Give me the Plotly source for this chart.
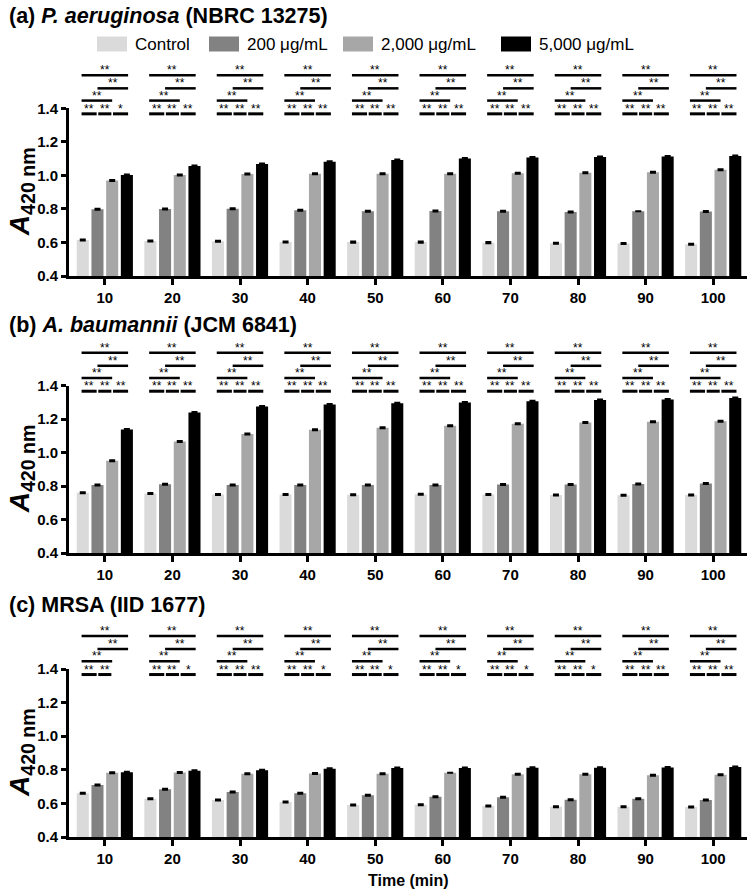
import plotly.graph_objects as go

# ---------------- data ----------------
times = ["10", "20", "30", "40", "50", "60", "70", "80", "90", "100"]
groups = ["Control", "200 μg/mL", "2,000 μg/mL", "5,000 μg/mL"]
colors = ["#dadada", "#828282", "#a7a7a7", "#000000"]

# (a) P. aeruginosa
a_control = [0.614, 0.608, 0.607, 0.603, 0.602, 0.602, 0.599, 0.595, 0.594, 0.590]
a_200 = [0.798, 0.800, 0.801, 0.792, 0.786, 0.788, 0.786, 0.781, 0.786, 0.785]
a_2000 = [0.970, 1.002, 1.008, 1.010, 1.010, 1.010, 1.012, 1.016, 1.018, 1.034]
a_5000 = [1.002, 1.056, 1.068, 1.082, 1.092, 1.100, 1.106, 1.110, 1.112, 1.116]
# (b) A. baumannii
b_control = [0.760, 0.755, 0.750, 0.750, 0.748, 0.751, 0.749, 0.746, 0.745, 0.747]
b_200 = [0.807, 0.811, 0.806, 0.807, 0.807, 0.807, 0.809, 0.809, 0.812, 0.816]
b_2000 = [0.952, 1.067, 1.112, 1.137, 1.148, 1.160, 1.172, 1.180, 1.184, 1.188]
b_5000 = [1.138, 1.240, 1.275, 1.287, 1.295, 1.300, 1.307, 1.314, 1.318, 1.326]
# (c) MRSA
c_control = [0.660, 0.627, 0.620, 0.608, 0.590, 0.592, 0.585, 0.580, 0.580, 0.578]
c_200 = [0.710, 0.684, 0.668, 0.660, 0.648, 0.640, 0.637, 0.622, 0.627, 0.620]
c_2000 = [0.782, 0.784, 0.776, 0.778, 0.776, 0.782, 0.774, 0.774, 0.768, 0.770]
c_5000 = [0.786, 0.794, 0.798, 0.806, 0.810, 0.810, 0.812, 0.812, 0.814, 0.816]

# standard errors (tiny)
a_err = [[0.003] * 10, [0.003] * 8 + [0.0, 0.003], [0.003] * 10, [0.003] * 10]
b_err = [[0.003] * 10, [0.003] * 10, [0.003] * 10, [0.003] * 10]
c_err = [[0.003] * 10, [0.003] * 10, [0.003] * 5 + [0.0] + [0.003] * 4, [0.003] * 10]

# significance: comparisons (bar i vs bar j)
comp_upper = [(0, 3), (1, 3), (0, 2)]  # top, second, third rows -> all "**"
comp_lower = [(0, 1), (1, 2), (2, 3)]
a_lower = [["**", "**", "*"]] + [["**", "**", "**"]] * 9
b_lower = [["**", "**", "**"]] * 10
c_lower = [["**", "**", ""], ["**", "**", "*"], ["**", "**", "**"], ["**", "**", "*"],
           ["**", "**", "*"], ["**", "**", "*"], ["**", "**", "*"], ["**", "**", "*"],
           ["**", "**", "**"], ["**", "**", "**"]]
upper_rows_y = [1.597, 1.519, 1.446]
lower_row_y = 1.367

titles = ["(a) <i>P. aeruginosa</i> (NBRC 13275)",
          "(b) <i>A. baumannii</i> (JCM 6841)",
          "(c) MRSA (IID 1677)"]
yticks = [0.4, 0.6, 0.8, 1.0, 1.2, 1.4]

panels = [
    dict(vals=[a_control, a_200, a_2000, a_5000], err=a_err, lower=a_lower, title=titles[0]),
    dict(vals=[b_control, b_200, b_2000, b_5000], err=b_err, lower=b_lower, title=titles[1]),
    dict(vals=[c_control, c_200, c_2000, c_5000], err=c_err, lower=c_lower, title=titles[2]),
]

# ---------------- layout geometry (pixels) ----------------
W, H = 750, 893
FONT = "Liberation Sans, Arial, Helvetica, sans-serif"
x_left, x_right = 69, 747
ypix = [(276, 108.3), (553, 385.7), (837, 669)]  # (y of 0.4, y of 1.4)
title_y = [16, 325, 605]
BARGAP = 0.13
BARGROUPGAP = 0.18
YMIN, YMAX = 0.4, 1.4

def py(p):
    return 1 - p / H

fig = go.Figure()
shapes = []
annotations = []

slot = (1 - BARGAP) / 4
def off(i):
    return (i - 1.5) * slot

for k, pan in enumerate(panels):
    sfx = "" if k == 0 else str(k + 1)
    xa, ya = "x" + sfx, "y" + sfx
    for g in range(4):
        fig.add_trace(go.Bar(
            x=times, y=pan["vals"][g], name=groups[g],
            marker=dict(color=colors[g], line=dict(width=0)),
            error_y=dict(type="data", array=pan["err"][g], color="black",
                         thickness=2, width=3),
            xaxis=xa, yaxis=ya, showlegend=False,
        ))
    b0, b1 = ypix[k]
    fig.update_layout(**{
        "xaxis" + sfx: dict(
            domain=[x_left / W, x_right / W], type="category", range=[-0.53, 9.5],
            showline=True, linewidth=3, linecolor="black", ticks="outside",
            ticklen=6, tickwidth=3, tickcolor="black", showgrid=False, automargin=False,
            tickfont=dict(family=FONT, size=15, color="black", weight="bold"),
            anchor=ya, fixedrange=True),
        "yaxis" + sfx: dict(
            domain=[py(b0), py(b1)], range=[YMIN, YMAX], tickvals=yticks,
            ticktext=["%.1f" % v for v in yticks], automargin=False,
            showline=True, linewidth=3, linecolor="black", ticks="outside",
            ticklen=5, tickwidth=3, tickcolor="black", showgrid=False, zeroline=False,
            tickfont=dict(family=FONT, size=15, color="black", weight="bold"),
            anchor=xa, fixedrange=True),
    })

    def ydom(v):
        return (v - YMIN) / (YMAX - YMIN)

    ext = 0.018
    for c in range(len(times)):
        # upper rows
        for r, (i, j) in enumerate(comp_upper):
            x0 = c + off(i) - (ext if i == 0 else 0)
            x1 = c + off(j) + (ext if j == 3 else 0)
            yv = ydom(upper_rows_y[r])
            shapes.append(dict(type="line", xref=xa, yref=ya + " domain",
                               x0=x0, x1=x1, y0=yv, y1=yv,
                               line=dict(color="black", width=2.5)))
            annotations.append(dict(text="**", xref=xa, yref=ya + " domain",
                                    x=(x0 + x1) / 2, y=yv, xanchor="center",
                                    yanchor="bottom", showarrow=False, yshift=-4,
                                    font=dict(family=FONT, size=12, color="black")))
        # lower row
        for r, (i, j) in enumerate(comp_lower):
            lab = pan["lower"][c][r]
            if not lab:
                continue
            x0 = c + off(i) + (-ext if i == 0 else 0.012)
            x1 = c + off(j) + (ext if j == 3 else -0.012)
            yv = ydom(lower_row_y)
            shapes.append(dict(type="line", xref=xa, yref=ya + " domain",
                               x0=x0, x1=x1, y0=yv, y1=yv,
                               line=dict(color="black", width=3)))
            annotations.append(dict(text=lab, xref=xa, yref=ya + " domain",
                                    x=(x0 + x1) / 2, y=yv, xanchor="center",
                                    yanchor="bottom", showarrow=False, yshift=-4,
                                    font=dict(family=FONT, size=12, color="black")))

    # panel title
    annotations.append(dict(text=pan["title"], xref="paper", yref="paper",
                            x=7 / W, y=py(title_y[k]), xanchor="left", yanchor="middle",
                            showarrow=False,
                            font=dict(family=FONT, size=21.5, color="black", weight="bold")))
    # y axis title
    annotations.append(dict(text="<i>A</i><sub>420 nm</sub>", xref="paper", yref=ya + " domain",
                            x=21 / W, y=0.5, xanchor="center", yanchor="middle",
                            textangle=-90, showarrow=False,
                            font=dict(family=FONT, size=28, color="black", weight="bold")))

# x title
annotations.append(dict(text="Time (min)", xref="paper", yref="paper",
                        x=(x_left + x_right) / 2 / W, y=py(880), xanchor="center",
                        yanchor="middle", showarrow=False,
                        font=dict(family=FONT, size=16, color="black", weight="bold")))

# manual legend
leg_x = [97, 209, 343, 501]
leg_y = 44
for g in range(4):
    shapes.append(dict(type="rect", xref="paper", yref="paper",
                       x0=leg_x[g] / W, x1=(leg_x[g] + 30) / W,
                       y0=py(leg_y + 7.5), y1=py(leg_y - 7.5),
                       fillcolor=colors[g], line=dict(width=0)))
    annotations.append(dict(text=groups[g], xref="paper", yref="paper",
                            x=(leg_x[g] + 36) / W, y=py(leg_y), xanchor="left",
                            yanchor="middle", showarrow=False,
                            font=dict(family=FONT, size=17, color="black")))

fig.update_layout(
    template="none",
    width=W, height=H, margin=dict(l=0, r=0, t=0, b=0, autoexpand=False),
    paper_bgcolor="white", plot_bgcolor="white",
    barmode="group", bargap=BARGAP, bargroupgap=BARGROUPGAP,
    shapes=shapes, annotations=annotations, showlegend=False,
)

fig.write_html(
    "out.html",
    config={"displayModeBar": False},
    post_script="document.body.style.margin='0';document.body.style.padding='0';"
                "document.documentElement.style.overflow='hidden';",
)
